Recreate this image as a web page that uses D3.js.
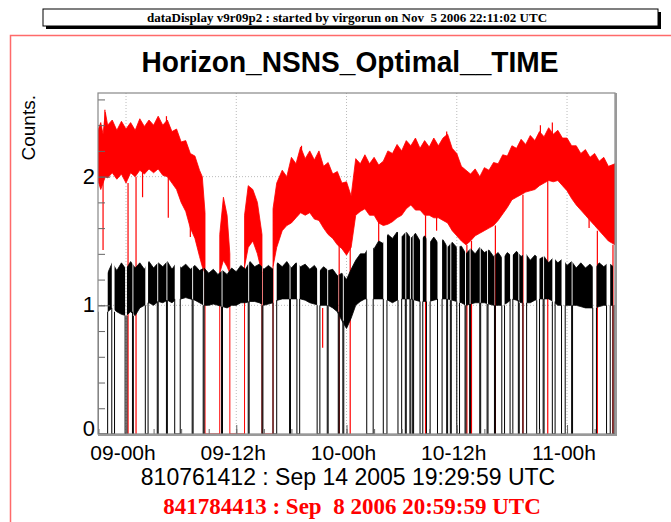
<!DOCTYPE html>
<html>
<head>
<meta charset="utf-8">
<script src="https://cdn.jsdelivr.net/npm/d3@7"></script>
<style>
  body { margin: 0; background: #fff; }
  text { font-family: "Liberation Sans", Arial, sans-serif; white-space: pre; }
</style>
</head>
<body>
<svg id="chart" width="671" height="522"></svg>
<script>
// axis ticks
const tickHours = [0, 12, 24, 36, 48];
const tickLabels = ["09-00h", "09-12h", "10-00h", "10-12h", "11-00h"];
const yTickValues = [0, 1, 2];

// red series envelope (null = series sits at zero)
const redT  = [-3.05, -2.75, -2.5, -2.25, -2, -1.5, -1, -0.5, 0, 0.5, 1, 1.5, 2, 2.5, 3, 3.5, 4, 4.5, 5, 5.5, 6, 6.5, 7, 7.5, 8, 8.3, 8.6, 9,
               10.2, 10.6, 11.0, 11.3, 12,
               12.9, 13.3, 13.8, 14.3, 14.8, 15,
               16.0, 16.4, 17, 17.5, 18, 18.5, 19, 19.5, 20, 20.5, 21, 21.5, 22, 22.5, 23, 23.5, 24, 24.5, 25, 25.5, 26, 26.5, 27, 27.5,
               28, 28.5, 29, 29.5, 30, 30.5, 31, 31.5, 32, 32.5, 33, 33.5, 34, 34.5, 35, 35.5, 36, 36.5, 37, 37.5, 38, 38.5, 39, 39.5,
               40, 40.5, 41, 41.5, 42, 42.5, 43, 43.5, 44, 44.5, 45, 45.5, 46, 46.5, 47, 47.5, 48, 48.5, 49, 49.5, 50, 50.5, 51, 51.5,
               52, 52.5, 53.22];
const redLo = [1.97, 1.90, 1.95, 2.00, 1.99, 2.03, 1.98, 2.02, 1.95, 2.03, 2.00, 2.05, 2.02, 2.06, 2.03, 2.06, 2.01, 2.00, 1.95, 1.90, 1.80, 1.73, 1.60, 1.52, 1.38, 1.30, 1.25, null,
               1.25, 1.35, 1.30, 1.25, null,
               1.30, 1.45, 1.50, 1.40, 1.25, null,
               1.30, 1.45, 1.58, 1.62, 1.64, 1.68, 1.72, 1.70, 1.72, 1.67, 1.66, 1.60, 1.55, 1.52, 1.47, 1.44, 1.39, 1.45, 1.70, 1.73, 1.75, 1.70, 1.70, 1.64,
               1.62, 1.63, 1.65, 1.68, 1.70, 1.75, 1.78, 1.74, 1.74, 1.70, 1.70, 1.68, 1.68, 1.66, 1.64, 1.58, 1.54, 1.50, 1.47, 1.50, 1.54, 1.56, 1.58, 1.60,
               1.62, 1.66, 1.71, 1.76, 1.82, 1.84, 1.86, 1.88, 1.89, 1.90, 1.93, 1.95, 1.97, 1.96, 1.97, 1.93, 1.89, 1.83, 1.78, 1.74, 1.70, 1.66, 1.62, 1.58,
               1.54, 1.50, 1.47];
const redHi = [2.36, 2.42, 2.33, 2.50, 2.40, 2.44, 2.36, 2.43, 2.37, 2.42, 2.36, 2.45, 2.39, 2.44, 2.40, 2.47, 2.40, 2.44, 2.35, 2.37, 2.27, 2.28, 2.18, 2.16, 2.05, 2.00, 1.72, null,
               1.55, 1.84, 1.70, 1.40, null,
               1.70, 1.93, 1.90, 1.80, 1.55, null,
               1.75, 1.95, 2.05, 2.00, 2.15, 2.10, 2.23, 2.14, 2.20, 2.13, 2.20, 2.08, 2.11, 2.02, 2.04, 1.95, 1.96, 1.85, 2.14, 2.10, 2.17, 2.10, 2.15, 2.09,
               2.12, 2.20, 2.18, 2.25, 2.20, 2.28, 2.24, 2.30, 2.22, 2.28, 2.23, 2.30, 2.24, 2.30, 2.33, 2.22, 2.18, 2.08, 2.05, 2.02, 2.06, 2.00, 2.07, 2.05,
               2.11, 2.10, 2.17, 2.16, 2.24, 2.22, 2.29, 2.25, 2.32, 2.28, 2.35, 2.31, 2.38, 2.33, 2.36, 2.30, 2.30, 2.24, 2.24, 2.18, 2.21, 2.15, 2.18, 2.12,
               2.15, 2.08, 2.10];
// red single drops to zero
const redDropT = [0.22, 1.09, 23.2, 24.4, 32.6, 37.1, 37.6, 40.2, 43.2, 45.9, 51.3, 53.0];
// red thin spikes
const redSpikeT  = [-2.5, -2.3, 1.8, 4.4, 4.6, 7.0, 19.1, 21.4, 27.5, 33.8, 34.9, 45.1, 46.4, 50.4];
const redSpikeLo = [1.43, 2.30, 1.84, 2.30, 1.68, 1.53, 2.10, 0.67, 1.50, 1.58, 2.20, 2.25, 2.30, 1.60];
const redSpikeHi = [2.00, 2.52, 2.10, 2.47, 2.00, 1.70, 2.24, 0.98, 1.75, 1.75, 2.35, 2.40, 2.42, 1.75];

// black series envelope
const blackT  = [-2, -1.5, -1, -0.5, 0, 0.5, 1, 1.5, 2, 2.5, 3, 3.5, 4, 4.5, 5, 5.5, 6, 6.5, 7, 7.5, 8, 8.5, 9, 9.5, 10, 10.5, 11, 11.5,
                 12, 12.5, 13, 13.5, 14, 14.5, 15, 15.5, 16, 16.5, 17, 17.5, 18, 18.5, 19, 19.5, 20, 20.5, 21, 21.5, 22, 22.5, 23, 23.5,
                 24, 24.5, 25, 25.5, 26, 26.5, 27, 27.5, 28, 28.5, 29, 29.5, 30, 30.5, 31, 31.5, 32, 32.5, 33, 33.5, 34, 34.5, 35, 35.5,
                 36, 36.5, 37, 37.5, 38, 38.5, 39, 39.5, 40, 40.5, 41, 41.5, 42, 42.5, 43, 43.5, 44, 44.5, 45, 45.5, 46, 46.5, 47, 47.5,
                 48, 48.5, 49, 49.5, 50, 50.5, 51, 51.5, 52, 52.5, 53.22];
const blackLo = [0.95, 0.98, 0.95, 0.93, 0.92, 0.95, 0.92, 0.98, 1.00, 1.02, 1.00, 1.03, 1.02, 1.04, 1.02, 1.05, 1.05, 1.06, 1.05, 1.04, 1.02, 1.00, 1.00, 1.01, 1.00, 0.99, 0.98, 1.00,
                 1.00, 1.02, 1.02, 1.03, 1.03, 1.02, 1.00, 1.01, 1.02, 1.04, 1.05, 1.05, 1.05, 1.05, 1.05, 1.04, 1.02, 1.01, 1.00, 1.00, 1.00, 0.98, 0.95, 0.88,
                 0.82, 0.90, 1.00, 1.03, 1.05, 1.05, 1.05, 1.05, 1.05, 1.04, 1.02, 1.04, 1.05, 1.05, 1.05, 1.04, 1.03, 1.03, 1.03, 1.04, 1.05, 1.05, 1.05, 1.04,
                 1.03, 1.02, 1.00, 1.01, 1.02, 1.02, 1.02, 1.01, 1.00, 1.00, 1.00, 1.02, 1.05, 1.04, 1.02, 1.02, 1.02, 1.04, 1.05, 1.05, 1.05, 1.03, 1.00, 1.00,
                 1.00, 1.00, 1.00, 0.99, 0.98, 0.98, 0.98, 0.99, 1.00, 1.00, 1.00];
const blackHi = [1.25, 1.33, 1.27, 1.33, 1.28, 1.34, 1.29, 1.33, 1.28, 1.34, 1.29, 1.33, 1.30, 1.34, 1.28, 1.33, 1.29, 1.32, 1.28, 1.31, 1.27, 1.29, 1.25, 1.28, 1.24, 1.27, 1.24, 1.29,
                 1.26, 1.31, 1.28, 1.34, 1.30, 1.32, 1.28, 1.31, 1.28, 1.33, 1.30, 1.34, 1.29, 1.33, 1.30, 1.32, 1.28, 1.31, 1.26, 1.30, 1.27, 1.28, 1.23, 1.25,
                 1.20, 1.28, 1.35, 1.40, 1.40, 1.46, 1.44, 1.50, 1.48, 1.55, 1.52, 1.57, 1.53, 1.57, 1.52, 1.56, 1.50, 1.54, 1.48, 1.53, 1.48, 1.51, 1.45, 1.49,
                 1.45, 1.46, 1.40, 1.44, 1.40, 1.45, 1.41, 1.43, 1.38, 1.41, 1.36, 1.41, 1.38, 1.42, 1.38, 1.40, 1.35, 1.39, 1.36, 1.38, 1.33, 1.37, 1.33, 1.36,
                 1.31, 1.34, 1.29, 1.33, 1.29, 1.32, 1.28, 1.33, 1.30, 1.33, 1.29];
// black intervals at zero
const blackGapStart = [-3.05, -1.55, -0.1, 0.7, 2.1, 3.4, 4.4, 5.3, 7.2, 8.4, 10.4, 13.3, 14.8, 16.0, 17.8, 18.6, 20.8, 21.9, 23.1, 23.6,
                       26.2, 28.0, 29.6, 30.4, 30.9, 31.2, 32.0, 32.7, 33.9, 34.9, 35.3, 36.0, 36.9, 37.4, 38.5, 39.3, 40.1, 40.9,
                       41.8, 42.7, 43.2, 44.7, 45.4, 46.4, 47.4, 48.5, 50.8, 52.3, 53.0];
const blackGapEnd   = [-2.0, -1.25, 0.1, 0.8, 2.4, 3.5, 4.5, 5.9, 7.3, 8.5, 10.5, 13.4, 14.9, 16.4, 17.9, 18.9, 21.1, 22.0, 23.2, 23.7,
                       26.9, 28.4, 30.0, 30.5, 31.0, 31.3, 32.3, 33.1, 34.4, 35.0, 35.4, 36.3, 37.0, 37.5, 38.6, 39.4, 40.2, 41.2,
                       42.1, 42.8, 43.6, 45.0, 45.5, 46.7, 47.8, 48.6, 51.2, 52.7, 53.22];

const svg = d3.select('#chart');

// frame geometry
const fLeft = 98, fRight = 615, fTop = 93, fBottom = 434;

const x = d3.scaleLinear().domain([-3.05, 53.22]).range([fLeft, fRight]);
const y = d3.scaleLinear().domain([0, 2.65]).range([fBottom, fTop]);

// header box
svg.append('rect').attr('x', 46).attr('y', 12).attr('width', 615).attr('height', 17).attr('fill', '#000');
svg.append('rect').attr('x', 43).attr('y', 9).attr('width', 615).attr('height', 17)
  .attr('fill', '#fff').attr('stroke', '#000').attr('stroke-width', 1);
svg.append('text').attr('x', 347).attr('y', 22).attr('text-anchor', 'middle')
  .style('font-family', '"Liberation Serif", serif').style('font-weight', 'bold').style('font-size', '13px')
  .text('dataDisplay v9r09p2 : started by virgorun on Nov  5 2006 22:11:02 UTC');

// red pad outline
svg.append('path').attr('d', 'M10.5,522V35.5H671').attr('fill', 'none')
  .attr('stroke', '#ff6a6a').attr('stroke-width', 1.5);

// title
svg.append('text').attr('x', 350).attr('y', 72).attr('text-anchor', 'middle')
  .attr('textLength', 417).attr('lengthAdjust', 'spacingAndGlyphs')
  .style('font-weight', 'bold').style('font-size', '29px')
  .text('Horizon_NSNS_Optimal__TIME');

// y title
svg.append('text').attr('transform', 'translate(35,95) rotate(-90)').attr('text-anchor', 'end')
  .style('font-size', '19px').text('Counts.');

// clip for plot
const defs = svg.append('defs');
defs.append('clipPath').attr('id', 'plotClip').append('rect')
  .attr('x', fLeft).attr('y', fTop).attr('width', fRight - fLeft).attr('height', fBottom - fTop);

// black clip: everything except zero intervals
const blackClip = defs.append('clipPath').attr('id', 'blackClip');
const gaps = blackGapStart.map((s, i) => [s, blackGapEnd[i]]);
let prev = x.domain()[0];
gaps.forEach(g => {
  if (g[0] > prev) {
    blackClip.append('rect').attr('x', x(prev)).attr('y', fTop)
      .attr('width', x(g[0]) - x(prev)).attr('height', fBottom - fTop);
  }
  prev = g[1];
});

// grid
const grid = svg.append('g');
grid.selectAll('line.vg').data(tickHours).join('line')
  .attr('x1', d => x(d)).attr('x2', d => x(d)).attr('y1', fTop).attr('y2', fBottom)
  .attr('stroke', '#bbb').attr('stroke-dasharray', '1,2');
grid.selectAll('line.hg').data([1, 2]).join('line')
  .attr('x1', fLeft).attr('x2', fRight).attr('y1', d => y(d)).attr('y2', d => y(d))
  .attr('stroke', '#bbb').attr('stroke-dasharray', '1,2');

const plot = svg.append('g').attr('clip-path', 'url(#plotClip)');

const area = d3.area()
  .defined(d => d.lo != null)
  .x(d => x(d.t)).y0(d => y(d.lo)).y1(d => y(d.hi));

// red
const redRows = redT.map((t, i) => ({ t, lo: redLo[i], hi: redHi[i] }));
plot.append('path').datum(redRows).attr('d', area)
  .attr('fill', '#ff0000').attr('stroke', '#ff0000').attr('stroke-width', 0.8);

// red segment ends dropping to zero
const redDef = redRows.filter(d => d.lo != null);
redRows.forEach((d, i) => {
  if (d.lo == null && i > 0) {
    const a = redRows[i - 1];
    const b = redRows[i + 1];
    if (a && b && a.lo != null && b.lo != null) {
      plot.append('path')
        .attr('d', `M${x(a.t)},${y(a.lo)}V${y(0)}H${x(b.t)}V${y(b.lo)}`)
        .attr('fill', 'none').attr('stroke', '#ff0000').attr('stroke-width', 1);
    }
  }
});

const nearest = (rows, t) => {
  const i = d3.bisector(d => d.t).center(rows, t);
  return rows[i];
};

plot.selectAll('line.rdrop').data(redDropT).join('line')
  .attr('x1', d => x(d)).attr('x2', d => x(d))
  .attr('y1', y(0)).attr('y2', d => y(nearest(redDef, d).lo))
  .attr('stroke', '#ff0000').attr('stroke-width', 1.2);

plot.selectAll('line.rspike').data(redSpikeT).join('line')
  .attr('x1', d => x(d)).attr('x2', d => x(d))
  .attr('y1', (d, i) => y(redSpikeLo[i])).attr('y2', (d, i) => y(redSpikeHi[i]))
  .attr('stroke', '#ff0000').attr('stroke-width', 1.2);

// black
const blackRows = blackT.map((t, i) => ({ t, lo: blackLo[i], hi: blackHi[i] }));
plot.append('g').attr('clip-path', 'url(#blackClip)')
  .append('path').datum(blackRows).attr('d', area)
  .attr('fill', '#000').attr('stroke', '#000').attr('stroke-width', 0.8);

const blackEdge = g => {
  const a = nearest(blackRows, g[0]);
  const b = nearest(blackRows, g[1]);
  return `M${x(g[0])},${y(a.lo)}V${y(0)}H${x(g[1])}V${y(b.lo)}`;
};
plot.selectAll('path.bgap').data(gaps).join('path')
  .attr('d', blackEdge)
  .attr('fill', 'none').attr('stroke', '#000').attr('stroke-width', 1);

// axes (ticks inside the frame)
const yMinor = d3.range(0, 2.61, 0.2);
svg.append('g').attr('transform', `translate(${fLeft},0)`)
  .call(d3.axisRight(y).tickValues(yMinor).tickSize(7).tickFormat(''))
  .call(g => g.select('.domain').remove())
  .call(g => g.selectAll('line').attr('stroke', '#666'));
svg.append('g').attr('transform', `translate(${fLeft},0)`)
  .call(d3.axisRight(y).tickValues(yTickValues).tickSize(12).tickFormat(''))
  .call(g => g.select('.domain').remove())
  .call(g => g.selectAll('line').attr('stroke', '#666'));

const xMinor = d3.range(-3, 53.3, 3);
svg.append('g').attr('transform', `translate(0,${fBottom})`)
  .call(d3.axisTop(x).tickValues(xMinor).tickSize(5).tickFormat(''))
  .call(g => g.select('.domain').remove())
  .call(g => g.selectAll('line').attr('stroke', '#666'));
svg.append('g').attr('transform', `translate(0,${fBottom})`)
  .call(d3.axisTop(x).tickValues(tickHours).tickSize(9).tickFormat(''))
  .call(g => g.select('.domain').remove())
  .call(g => g.selectAll('line').attr('stroke', '#666'));

// frame
svg.append('rect').attr('x', fLeft).attr('y', fTop).attr('width', fRight - fLeft).attr('height', fBottom - fTop)
  .attr('fill', 'none').attr('stroke', '#888').attr('stroke-width', 1.2);
svg.append('path').attr('d', `M${fRight + 1},${fTop}V${fBottom + 1}H${fLeft}`)
  .attr('fill', 'none').attr('stroke', '#999').attr('stroke-width', 2);

// tick labels
svg.selectAll('text.ylab').data(yTickValues).join('text')
  .attr('x', fLeft - 3).attr('y', d => y(d) + (d === 0 ? 2 : 7)).attr('text-anchor', 'end')
  .style('font-size', '22px').text(d => d);
svg.selectAll('text.xlab').data(tickHours).join('text')
  .attr('x', d => x(d) - 3).attr('y', 460).attr('text-anchor', 'middle')
  .style('font-size', '21px').text((d, i) => tickLabels[i]);

// time stamps
svg.append('text').attr('x', 348).attr('y', 485).attr('text-anchor', 'middle')
  .style('font-size', '23px').text('810761412 : Sep 14 2005 19:29:59 UTC');
svg.append('text').attr('x', 352).attr('y', 514).attr('text-anchor', 'middle')
  .style('font-family', '"Liberation Serif", serif').style('font-weight', 'bold')
  .style('font-size', '23px').attr('fill', '#ff0000')
  .text('841784413 : Sep  8 2006 20:59:59 UTC');
</script>
</body>
</html>
